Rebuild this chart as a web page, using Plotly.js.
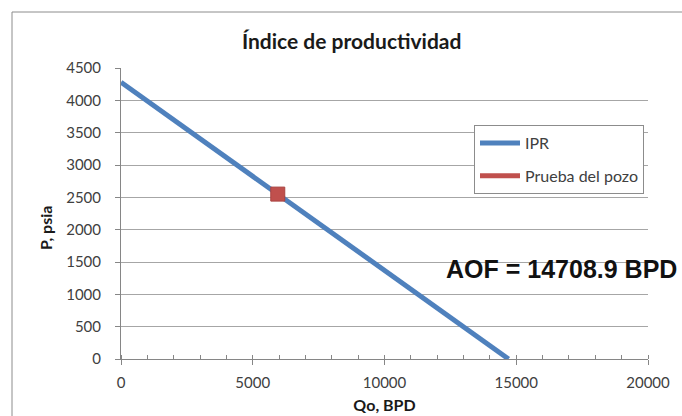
<!DOCTYPE html>
<html>
<head>
<meta charset="utf-8">
<script src="https://cdn.plot.ly/plotly-3.0.1.min.js"></script>
<style>html,body{margin:0;padding:0;background:#fff;}#chart{width:682px;height:416px;}</style>
</head>
<body>
<div id="chart"></div>
<script>
// Data
const iprQ = [0, 14708.9];          // Qo, BPD
const iprP = [4280, 0];             // P, psia
const testQ = [5950];               // well test rate
const testP = [2550];               // well test pressure
const aof = 14708.9;
const xTicks = [0, 5000, 10000, 15000, 20000];
const yTicks = [0, 500, 1000, 1500, 2000, 2500, 3000, 3500, 4000, 4500];

const W = 682, H = 416;
const mL = 121, mR = 34, mT = 68, mB = 57;
const pw = W - mL - mR, ph = H - mT - mB;
const px = v => (v - mL) / pw;
const py = v => 1 - (v - mT) / ph;

const font = "Lato, 'Open Sans', sans-serif";

const traces = [
  {x: iprQ, y: iprP, mode: 'lines', name: 'IPR', legendgroup: 'a',
   line: {color: '#4F81BD', width: 5}},
  {x: testQ, y: testP, mode: 'lines', name: 'Prueba del pozo', legendgroup: 'b',
   line: {color: '#C0504D', width: 5}},
  {x: testQ, y: testP, mode: 'markers', showlegend: false, legendgroup: 'b',
   marker: {symbol: 'square', size: 14, color: '#C0504D', line: {color: '#A94441', width: 1}}}
];

const layout = {
  width: W, height: H,
  margin: {l: mL, r: mR, t: mT, b: mB, pad: 0},
  paper_bgcolor: '#fff', plot_bgcolor: '#fff',
  font: {family: font, color: '#404040', size: 15},
  title: {text: '<b>Índice de productividad</b>', xref: 'container', yref: 'container',
          x: 351.7 / W, y: 1 - 42 / H, xanchor: 'center', yanchor: 'middle',
          font: {family: font, size: 21, color: '#1a1a1a'}},
  showlegend: true,
  legend: {x: px(474), y: py(125), xanchor: 'left', yanchor: 'top',
           bgcolor: '#fff', bordercolor: '#8c8c8c', borderwidth: 1, itemwidth: 40,
           font: {family: font, size: 16, color: '#404040'}, tracegroupgap: 9},
  xaxis: {range: [0, 20000], tickvals: xTicks, ticktext: xTicks.map(String),
          showgrid: false, zeroline: false, showline: true, linecolor: '#868686', linewidth: 1,
          ticks: 'outside', ticklen: 5, tickcolor: '#868686', ticklabelstandoff: 5,
          tickfont: {size: 15},
          minor: {dtick: 1000, ticks: 'inside', ticklen: 4, tickcolor: '#868686', showgrid: false},
          title: {text: '<b>Qo, BPD</b>', standoff: 9, font: {family: font, size: 16, color: '#1a1a1a'}},
          fixedrange: true},
  yaxis: {range: [0, 4500], tickvals: yTicks, ticktext: yTicks.map(String),
          showgrid: true, gridcolor: '#a6a6a6', gridwidth: 1, zeroline: false,
          showline: true, linecolor: '#868686', linewidth: 1,
          ticks: 'outside', ticklen: 5, tickcolor: '#868686', ticklabelstandoff: 11,
          tickfont: {size: 15},
          fixedrange: true},
  annotations: [
    {text: '<b>P, psia</b>', xref: 'paper', yref: 'paper', x: px(45), y: py(228),
     textangle: -90, showarrow: false, xanchor: 'center', yanchor: 'middle',
     font: {family: font, size: 16, color: '#1a1a1a'}},
    {text: '<b>AOF = ' + aof.toFixed(1) + ' BPD</b>', xref: 'paper', yref: 'paper',
     x: px(444), y: py(269), xanchor: 'left', yanchor: 'middle', showarrow: false,
     font: {family: "'Liberation Sans', Arial, sans-serif", size: 25, color: '#111'}}
  ],
  shapes: [
    {type: 'rect', xref: 'paper', yref: 'paper', layer: 'below',
     x0: px(12), x1: px(700), y0: py(440), y1: py(12),
     line: {color: '#8c8c8c', width: 1}, fillcolor: 'rgba(0,0,0,0)'}
  ]
};

Plotly.newPlot('chart', traces, layout, {displayModeBar: false, staticPlot: true});
</script>
</body>
</html>
